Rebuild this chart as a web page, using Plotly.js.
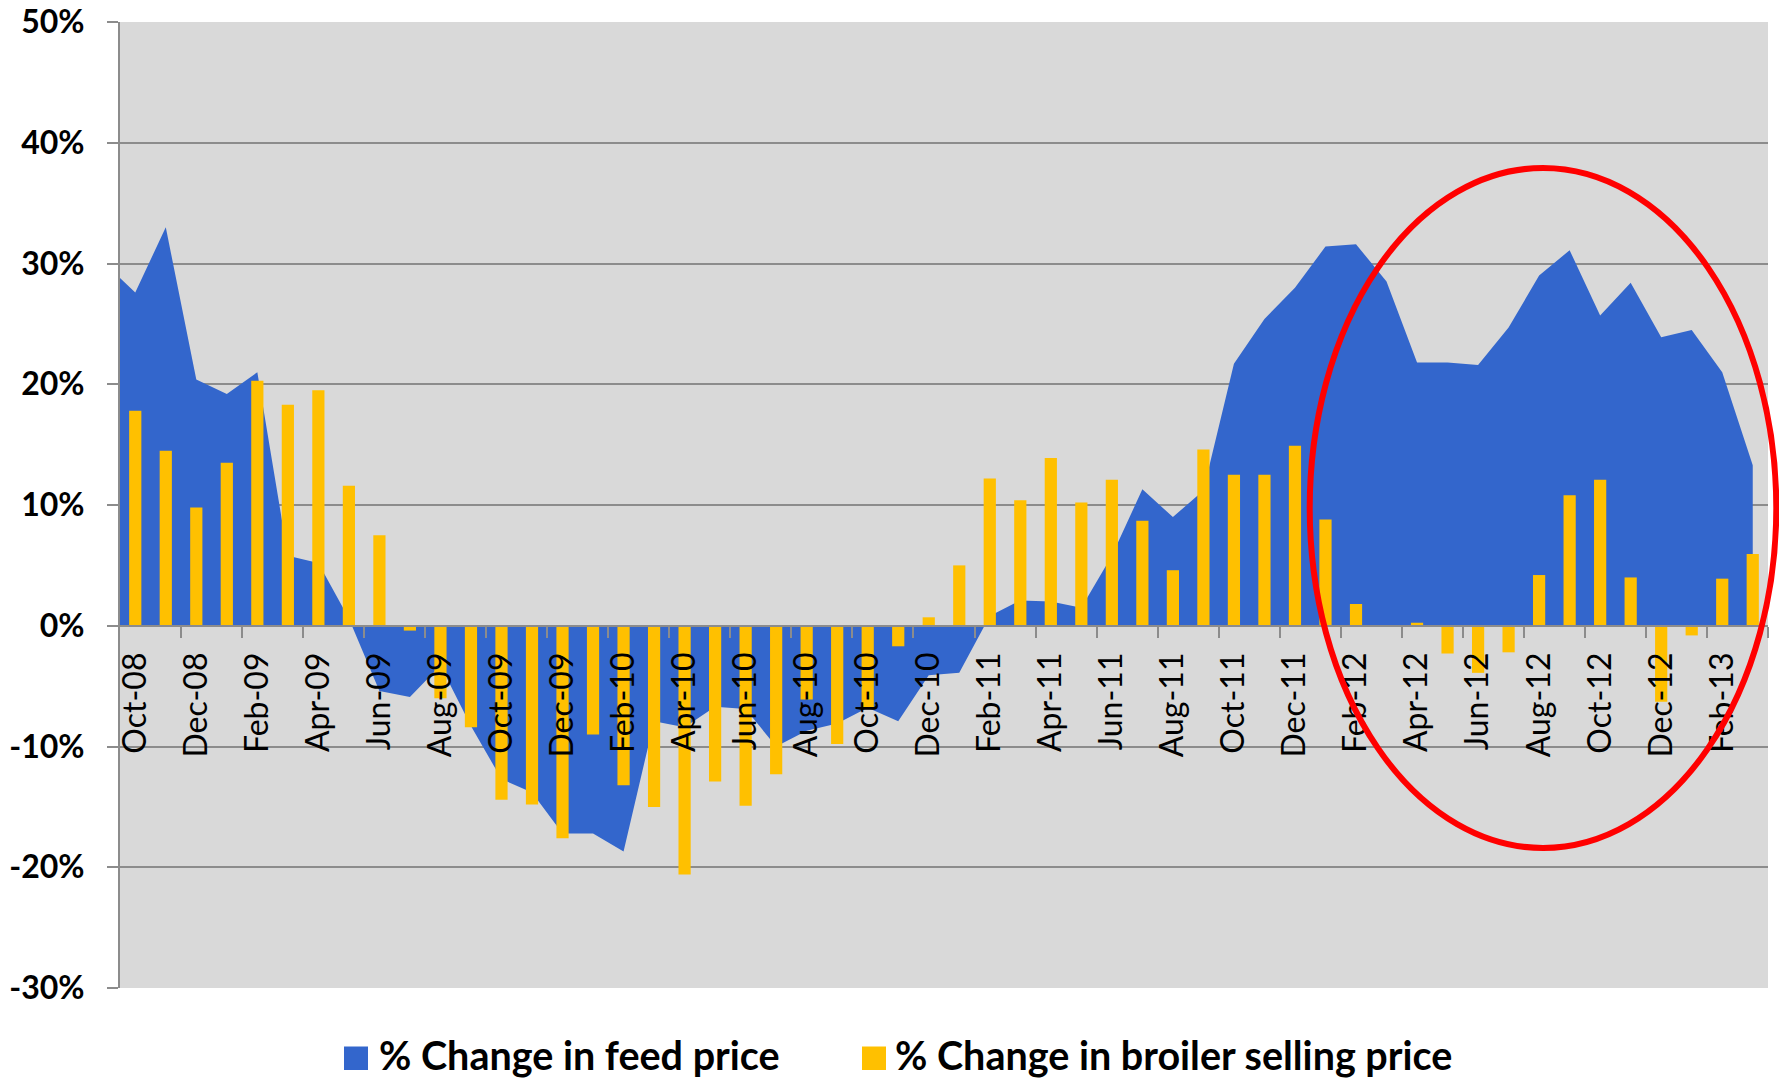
<!DOCTYPE html>
<html>
<head>
<meta charset="utf-8">
<script src="https://cdn.plot.ly/plotly-3.0.1.min.js"></script>
<style>
  html, body { margin: 0; padding: 0; background: #ffffff; }
  #chart { width: 1779px; height: 1079px; }
</style>
</head>
<body>
<div id="chart"></div>
<script>
// ---- data ----
const categories = [
  'Oct-08','Nov-08','Dec-08',
  'Jan-09','Feb-09','Mar-09','Apr-09','May-09','Jun-09','Jul-09','Aug-09','Sep-09','Oct-09','Nov-09','Dec-09',
  'Jan-10','Feb-10','Mar-10','Apr-10','May-10','Jun-10','Jul-10','Aug-10','Sep-10','Oct-10','Nov-10','Dec-10',
  'Jan-11','Feb-11','Mar-11','Apr-11','May-11','Jun-11','Jul-11','Aug-11','Sep-11','Oct-11','Nov-11','Dec-11',
  'Jan-12','Feb-12','Mar-12','Apr-12','May-12','Jun-12','Jul-12','Aug-12','Sep-12','Oct-12','Nov-12','Dec-12',
  'Jan-13','Feb-13','Mar-13'
];
// % change in feed price (area)
const feedChange = [
  27.6, 33.0, 20.4,
  19.2, 21.0, 5.8, 5.2, 0.6, -5.4, -5.9, -3.3, -8.3, -12.7, -13.8, -17.2,
  -17.2, -18.7, -7.9, -8.4, -6.7, -6.9, -10.0, -8.7, -8.1, -6.8, -7.9, -4.1,
  -3.9, 0.8, 2.1, 2.0, 1.5, 5.8, 11.3, 9.0, 11.2, 21.7, 25.4, 28.0,
  31.4, 31.6, 28.5, 21.8, 21.8, 21.6, 24.7, 29.0, 31.1, 25.7, 28.4, 23.9,
  24.5, 21.0, 13.3
];
// value of the feed area where it meets the plot's left edge
const feedLeftEdge = 28.8;
// % change in broiler selling price (bars)
const broilerChange = [
  17.8, 14.5, 9.8,
  13.5, 20.3, 18.3, 19.5, 11.6, 7.5, -0.4, -6.0, -8.4, -14.4, -14.8, -17.6,
  -9.0, -13.2, -15.0, -20.6, -12.9, -14.9, -12.3, -6.1, -9.8, -6.9, -1.7, 0.7,
  5.0, 12.2, 10.4, 13.9, 10.2, 12.1, 8.7, 4.6, 14.6, 12.5, 12.5, 14.9,
  8.8, 1.8, 0.05, 0.25, -2.3, -3.9, -2.2, 4.2, 10.8, 12.1, 4.0, -6.3,
  -0.8, 3.9, 5.95
];
const seriesNames = ['% Change in feed price', '% Change in broiler selling price'];
const yTickValues = [-30, -20, -10, 0, 10, 20, 30, 40, 50];

// ---- styling ----
const FEED_COLOR = '#3366CC';
const BROILER_COLOR = '#FFC000';
const GRID = '#8C8C8C';
const FONT = 'Lato, "Open Sans", sans-serif';
const W = 1779, H = 1079;
const M = { l: 120, r: 11, t: 22, b: 91 };
const PW = W - M.l - M.r, PH = H - M.t - M.b;
const px2x = p => (p - M.l) / PW;
const px2y = p => (H - M.b - p) / PH;

const idx = categories.map((_, i) => i);
const xRange = [-0.5, categories.length - 0.5];
const yRange = [-30, 50];
const labelIdx = idx.filter(i => i % 2 === 0);
const boundaryTicks = labelIdx.map(i => i + 1.5);

const traces = [
  {
    type: 'scatter',
    mode: 'lines',
    name: seriesNames[0],
    x: [xRange[0]].concat(idx),
    y: [feedLeftEdge].concat(feedChange),
    fill: 'tozeroy',
    fillcolor: FEED_COLOR,
    line: { width: 0, color: FEED_COLOR },
    hoverinfo: 'skip',
    showlegend: false
  },
  {
    type: 'bar',
    name: seriesNames[1],
    x: idx,
    y: broilerChange,
    xaxis: 'x2',
    yaxis: 'y2',
    width: 0.4,
    marker: { color: BROILER_COLOR, line: { width: 0 } },
    hoverinfo: 'skip',
    showlegend: false
  }
];

const legendFont = { family: FONT, size: 39.5, color: '#000000', weight: 'bold' };

const layout = {
  width: W, height: H,
  margin: M,
  paper_bgcolor: '#ffffff',
  plot_bgcolor: '#D9D9D9',
  font: { family: FONT, color: '#000000' },
  showlegend: false,
  xaxis: {
    type: 'linear',
    range: xRange,
    anchor: 'free',
    position: (0 - yRange[0]) / (yRange[1] - yRange[0]),
    tickmode: 'array',
    tickvals: labelIdx,
    ticktext: labelIdx.map(i => categories[i]),
    tickangle: -90,
    ticks: '',
    ticklabelstandoff: 13,
    tickfont: { family: FONT, size: 32, color: '#000000' },
    minor: {
      tickmode: 'array',
      tickvals: boundaryTicks,
      ticks: 'outside',
      ticklen: 11,
      tickwidth: 2,
      tickcolor: GRID,
      showgrid: false
    },
    showgrid: false,
    zeroline: false,
    showline: true,
    linecolor: GRID,
    linewidth: 2,
    automargin: false,
    fixedrange: true
  },
  yaxis: {
    range: yRange,
    tickmode: 'array',
    tickvals: yTickValues,
    ticktext: yTickValues.map(v => v + '%'),
    ticks: 'outside',
    ticklen: 11,
    tickwidth: 2,
    tickcolor: GRID,
    ticklabelstandoff: 16,
    tickfont: { family: FONT, size: 32, color: '#000000', weight: 'bold' },
    showgrid: true,
    gridcolor: GRID,
    gridwidth: 2,
    zeroline: false,
    showline: true,
    linecolor: GRID,
    linewidth: 2,
    automargin: false,
    fixedrange: true
  },
  xaxis2: {
    overlaying: 'x',
    range: xRange,
    visible: false,
    showgrid: false,
    zeroline: false,
    fixedrange: true
  },
  yaxis2: {
    overlaying: 'y',
    range: yRange,
    visible: false,
    showgrid: false,
    zeroline: false,
    fixedrange: true
  },
  shapes: [
    // red highlight ellipse
    {
      type: 'circle', xref: 'paper', yref: 'paper',
      x0: px2x(1309.7), x1: px2x(1776.3),
      y0: px2y(848), y1: px2y(168),
      line: { color: '#FF0000', width: 6 },
      fillcolor: 'rgba(0,0,0,0)',
      layer: 'above'
    },
    // legend swatches
    {
      type: 'rect', xref: 'paper', yref: 'paper',
      x0: px2x(344), x1: px2x(368), y0: px2y(1070), y1: px2y(1046.5),
      fillcolor: FEED_COLOR, line: { width: 0 }
    },
    {
      type: 'rect', xref: 'paper', yref: 'paper',
      x0: px2x(862), x1: px2x(886), y0: px2y(1070), y1: px2y(1046.5),
      fillcolor: BROILER_COLOR, line: { width: 0 }
    }
  ],
  annotations: [
    {
      xref: 'paper', yref: 'paper', x: px2x(377), y: px2y(1054),
      xanchor: 'left', yanchor: 'middle', showarrow: false,
      text: seriesNames[0],
      font: legendFont
    },
    {
      xref: 'paper', yref: 'paper', x: px2x(893), y: px2y(1054),
      xanchor: 'left', yanchor: 'middle', showarrow: false,
      text: seriesNames[1],
      font: legendFont
    }
  ]
};

Plotly.newPlot('chart', traces, layout, { displayModeBar: false, staticPlot: true });
</script>
</body>
</html>
